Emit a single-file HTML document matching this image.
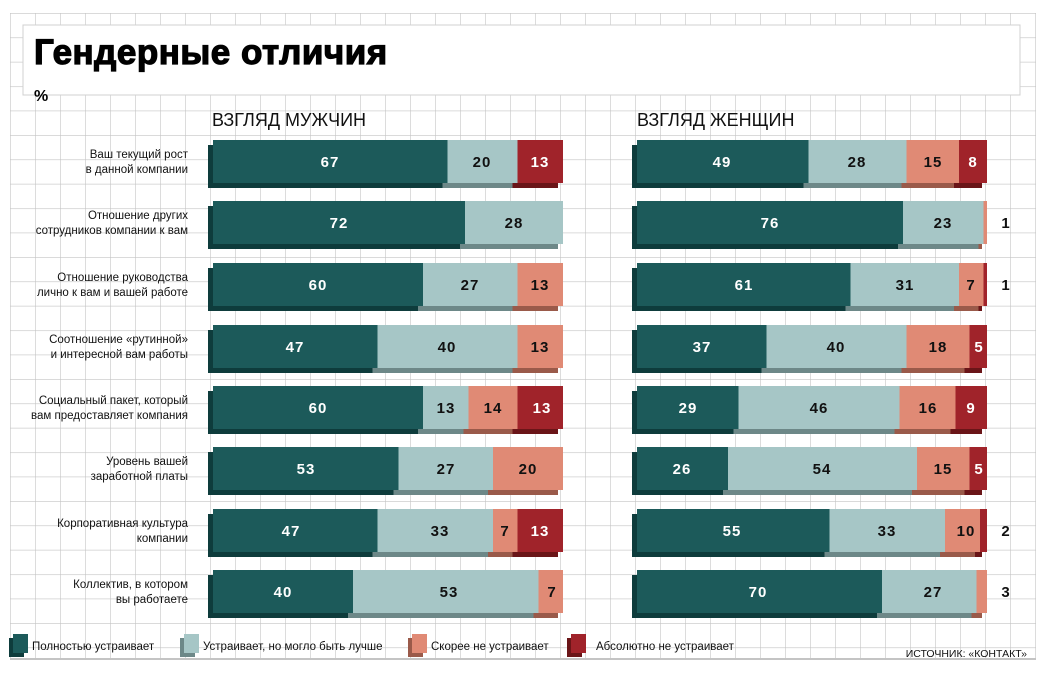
<!DOCTYPE html>
<html><head><meta charset="utf-8"><style>
html,body{margin:0;padding:0;background:#fff;}
svg{display:block;font-family:"Liberation Sans",sans-serif;}
.lab{font-size:11.5px;fill:#111;text-anchor:end;}
.v{font-size:15px;font-weight:bold;text-anchor:middle;letter-spacing:1px;}
.w{fill:#fff}.k{fill:#111}
.lg{font-size:11.5px;fill:#111;}
</style></head><body>
<svg width="1045" height="673" viewBox="0 0 1045 673" xmlns="http://www.w3.org/2000/svg">
<defs>
<pattern id="g" x="10" y="13" width="25" height="24.4" patternUnits="userSpaceOnUse">
<path d="M0 0H25M0 0V24.4" stroke="#c4c4c4" stroke-width="1.2" fill="none"/>
</pattern>
</defs>
<rect x="10" y="13" width="1026" height="645" fill="url(#g)"/>
<rect x="23" y="25" width="997" height="70" fill="#fff" stroke="#d0d0d0"/>
<text x="34" y="64" font-size="35" font-weight="bold" fill="#000" stroke="#000" stroke-width="1.2" style="letter-spacing:0.5px">Гендерные отличия</text>
<text x="34" y="101" font-size="16" font-weight="bold" fill="#000">%</text>
<text x="212" y="126" font-size="18" fill="#111">ВЗГЛЯД МУЖЧИН</text>
<text x="637" y="126" font-size="18" fill="#111">ВЗГЛЯД ЖЕНЩИН</text>

<!-- Row 1 -->
<g transform="translate(0,140)">
<text class="lab" x="188" y="18">Ваш текущий рост</text><text class="lab" x="188" y="33">в данной компании</text>
<rect x="208" y="5" width="234.5" height="43" fill="#0e3c3c"/><rect x="442.5" y="5" width="70" height="43" fill="#6d8888"/><rect x="512.5" y="5" width="45.5" height="43" fill="#6a1518"/>
<rect x="213" y="0" width="234.5" height="43" fill="#1c5a5a"/><rect x="447.5" y="0" width="70" height="43" fill="#a6c6c6"/><rect x="517.5" y="0" width="45.5" height="43" fill="#a0232a"/>
<text class="v w" x="330" y="27">67</text><text class="v k" x="482" y="27">20</text><text class="v w" x="540" y="27">13</text>
<rect x="632" y="5" width="171.5" height="43" fill="#0e3c3c"/><rect x="803.5" y="5" width="98" height="43" fill="#6d8888"/><rect x="901.5" y="5" width="52.5" height="43" fill="#9a5a4a"/><rect x="954" y="5" width="28" height="43" fill="#6a1518"/>
<rect x="637" y="0" width="171.5" height="43" fill="#1c5a5a"/><rect x="808.5" y="0" width="98" height="43" fill="#a6c6c6"/><rect x="906.5" y="0" width="52.5" height="43" fill="#e08a75"/><rect x="959" y="0" width="28" height="43" fill="#a0232a"/>
<text class="v w" x="722" y="27">49</text><text class="v k" x="857" y="27">28</text><text class="v k" x="933" y="27">15</text><text class="v w" x="973" y="27">8</text>
</g>

<!-- Row 2 -->
<g transform="translate(0,201)">
<text class="lab" x="188" y="18">Отношение других</text><text class="lab" x="188" y="33">сотрудников компании к вам</text>
<rect x="208" y="5" width="252" height="43" fill="#0e3c3c"/><rect x="460" y="5" width="98" height="43" fill="#6d8888"/>
<rect x="213" y="0" width="252" height="43" fill="#1c5a5a"/><rect x="465" y="0" width="98" height="43" fill="#a6c6c6"/>
<text class="v w" x="339" y="27">72</text><text class="v k" x="514" y="27">28</text>
<rect x="632" y="5" width="266" height="43" fill="#0e3c3c"/><rect x="898" y="5" width="80.5" height="43" fill="#6d8888"/><rect x="978.5" y="5" width="3.5" height="43" fill="#9a5a4a"/>
<rect x="637" y="0" width="266" height="43" fill="#1c5a5a"/><rect x="903" y="0" width="80.5" height="43" fill="#a6c6c6"/><rect x="983.5" y="0" width="3.5" height="43" fill="#e08a75"/>
<text class="v w" x="770" y="27">76</text><text class="v k" x="943" y="27">23</text><text class="v k" x="1006" y="27">1</text>
</g>

<!-- Row 3 -->
<g transform="translate(0,263)">
<text class="lab" x="188" y="18">Отношение руководства</text><text class="lab" x="188" y="33">лично к вам и вашей работе</text>
<rect x="208" y="5" width="210" height="43" fill="#0e3c3c"/><rect x="418" y="5" width="94.5" height="43" fill="#6d8888"/><rect x="512.5" y="5" width="45.5" height="43" fill="#9a5a4a"/>
<rect x="213" y="0" width="210" height="43" fill="#1c5a5a"/><rect x="423" y="0" width="94.5" height="43" fill="#a6c6c6"/><rect x="517.5" y="0" width="45.5" height="43" fill="#e08a75"/>
<text class="v w" x="318" y="27">60</text><text class="v k" x="470" y="27">27</text><text class="v k" x="540" y="27">13</text>
<rect x="632" y="5" width="213.5" height="43" fill="#0e3c3c"/><rect x="845.5" y="5" width="108.5" height="43" fill="#6d8888"/><rect x="954" y="5" width="24.5" height="43" fill="#9a5a4a"/><rect x="978.5" y="5" width="3.5" height="43" fill="#6a1518"/>
<rect x="637" y="0" width="213.5" height="43" fill="#1c5a5a"/><rect x="850.5" y="0" width="108.5" height="43" fill="#a6c6c6"/><rect x="959" y="0" width="24.5" height="43" fill="#e08a75"/><rect x="983.5" y="0" width="3.5" height="43" fill="#a0232a"/>
<text class="v w" x="744" y="27">61</text><text class="v k" x="905" y="27">31</text><text class="v k" x="971" y="27">7</text><text class="v k" x="1006" y="27">1</text>
</g>

<!-- Row 4 -->
<g transform="translate(0,325)">
<text class="lab" x="188" y="18">Соотношение «рутинной»</text><text class="lab" x="188" y="33">и интересной вам работы</text>
<rect x="208" y="5" width="164.5" height="43" fill="#0e3c3c"/><rect x="372.5" y="5" width="140" height="43" fill="#6d8888"/><rect x="512.5" y="5" width="45.5" height="43" fill="#9a5a4a"/>
<rect x="213" y="0" width="164.5" height="43" fill="#1c5a5a"/><rect x="377.5" y="0" width="140" height="43" fill="#a6c6c6"/><rect x="517.5" y="0" width="45.5" height="43" fill="#e08a75"/>
<text class="v w" x="295" y="27">47</text><text class="v k" x="447" y="27">40</text><text class="v k" x="540" y="27">13</text>
<rect x="632" y="5" width="129.5" height="43" fill="#0e3c3c"/><rect x="761.5" y="5" width="140" height="43" fill="#6d8888"/><rect x="901.5" y="5" width="63" height="43" fill="#9a5a4a"/><rect x="964.5" y="5" width="17.5" height="43" fill="#6a1518"/>
<rect x="637" y="0" width="129.5" height="43" fill="#1c5a5a"/><rect x="766.5" y="0" width="140" height="43" fill="#a6c6c6"/><rect x="906.5" y="0" width="63" height="43" fill="#e08a75"/><rect x="969.5" y="0" width="17.5" height="43" fill="#a0232a"/>
<text class="v w" x="702" y="27">37</text><text class="v k" x="836" y="27">40</text><text class="v k" x="938" y="27">18</text><text class="v w" x="979" y="27">5</text>
</g>

<!-- Row 5 -->
<g transform="translate(0,386)">
<text class="lab" x="188" y="18">Социальный пакет, который</text><text class="lab" x="188" y="33">вам предоставляет компания</text>
<rect x="208" y="5" width="210" height="43" fill="#0e3c3c"/><rect x="418" y="5" width="45.5" height="43" fill="#6d8888"/><rect x="463.5" y="5" width="49" height="43" fill="#9a5a4a"/><rect x="512.5" y="5" width="45.5" height="43" fill="#6a1518"/>
<rect x="213" y="0" width="210" height="43" fill="#1c5a5a"/><rect x="423" y="0" width="45.5" height="43" fill="#a6c6c6"/><rect x="468.5" y="0" width="49" height="43" fill="#e08a75"/><rect x="517.5" y="0" width="45.5" height="43" fill="#a0232a"/>
<text class="v w" x="318" y="27">60</text><text class="v k" x="446" y="27">13</text><text class="v k" x="493" y="27">14</text><text class="v w" x="542" y="27">13</text>
<rect x="632" y="5" width="101.5" height="43" fill="#0e3c3c"/><rect x="733.5" y="5" width="161" height="43" fill="#6d8888"/><rect x="894.5" y="5" width="56" height="43" fill="#9a5a4a"/><rect x="950.5" y="5" width="31.5" height="43" fill="#6a1518"/>
<rect x="637" y="0" width="101.5" height="43" fill="#1c5a5a"/><rect x="738.5" y="0" width="161" height="43" fill="#a6c6c6"/><rect x="899.5" y="0" width="56" height="43" fill="#e08a75"/><rect x="955.5" y="0" width="31.5" height="43" fill="#a0232a"/>
<text class="v w" x="688" y="27">29</text><text class="v k" x="819" y="27">46</text><text class="v k" x="928" y="27">16</text><text class="v w" x="971" y="27">9</text>
</g>

<!-- Row 6 -->
<g transform="translate(0,447)">
<text class="lab" x="188" y="18">Уровень вашей</text><text class="lab" x="188" y="33">заработной платы</text>
<rect x="208" y="5" width="185.5" height="43" fill="#0e3c3c"/><rect x="393.5" y="5" width="94.5" height="43" fill="#6d8888"/><rect x="488" y="5" width="70" height="43" fill="#9a5a4a"/>
<rect x="213" y="0" width="185.5" height="43" fill="#1c5a5a"/><rect x="398.5" y="0" width="94.5" height="43" fill="#a6c6c6"/><rect x="493" y="0" width="70" height="43" fill="#e08a75"/>
<text class="v w" x="306" y="27">53</text><text class="v k" x="446" y="27">27</text><text class="v k" x="528" y="27">20</text>
<rect x="632" y="5" width="91" height="43" fill="#0e3c3c"/><rect x="723" y="5" width="189" height="43" fill="#6d8888"/><rect x="912" y="5" width="52.5" height="43" fill="#9a5a4a"/><rect x="964.5" y="5" width="17.5" height="43" fill="#6a1518"/>
<rect x="637" y="0" width="91" height="43" fill="#1c5a5a"/><rect x="728" y="0" width="189" height="43" fill="#a6c6c6"/><rect x="917" y="0" width="52.5" height="43" fill="#e08a75"/><rect x="969.5" y="0" width="17.5" height="43" fill="#a0232a"/>
<text class="v w" x="682" y="27">26</text><text class="v k" x="822" y="27">54</text><text class="v k" x="943" y="27">15</text><text class="v w" x="979" y="27">5</text>
</g>

<!-- Row 7 -->
<g transform="translate(0,509)">
<text class="lab" x="188" y="18">Корпоративная культура</text><text class="lab" x="188" y="33">компании</text>
<rect x="208" y="5" width="164.5" height="43" fill="#0e3c3c"/><rect x="372.5" y="5" width="115.5" height="43" fill="#6d8888"/><rect x="488" y="5" width="24.5" height="43" fill="#9a5a4a"/><rect x="512.5" y="5" width="45.5" height="43" fill="#6a1518"/>
<rect x="213" y="0" width="164.5" height="43" fill="#1c5a5a"/><rect x="377.5" y="0" width="115.5" height="43" fill="#a6c6c6"/><rect x="493" y="0" width="24.5" height="43" fill="#e08a75"/><rect x="517.5" y="0" width="45.5" height="43" fill="#a0232a"/>
<text class="v w" x="291" y="27">47</text><text class="v k" x="440" y="27">33</text><text class="v k" x="505" y="27">7</text><text class="v w" x="540" y="27">13</text>
<rect x="632" y="5" width="192.5" height="43" fill="#0e3c3c"/><rect x="824.5" y="5" width="115.5" height="43" fill="#6d8888"/><rect x="940" y="5" width="35" height="43" fill="#9a5a4a"/><rect x="975" y="5" width="7" height="43" fill="#6a1518"/>
<rect x="637" y="0" width="192.5" height="43" fill="#1c5a5a"/><rect x="829.5" y="0" width="115.5" height="43" fill="#a6c6c6"/><rect x="945" y="0" width="35" height="43" fill="#e08a75"/><rect x="980" y="0" width="7" height="43" fill="#a0232a"/>
<text class="v w" x="732" y="27">55</text><text class="v k" x="887" y="27">33</text><text class="v k" x="966" y="27">10</text><text class="v k" x="1006" y="27">2</text>
</g>

<!-- Row 8 -->
<g transform="translate(0,570)">
<text class="lab" x="188" y="18">Коллектив, в котором</text><text class="lab" x="188" y="33">вы работаете</text>
<rect x="208" y="5" width="140" height="43" fill="#0e3c3c"/><rect x="348" y="5" width="185.5" height="43" fill="#6d8888"/><rect x="533.5" y="5" width="24.5" height="43" fill="#9a5a4a"/>
<rect x="213" y="0" width="140" height="43" fill="#1c5a5a"/><rect x="353" y="0" width="185.5" height="43" fill="#a6c6c6"/><rect x="538.5" y="0" width="24.5" height="43" fill="#e08a75"/>
<text class="v w" x="283" y="27">40</text><text class="v k" x="449" y="27">53</text><text class="v k" x="552" y="27">7</text>
<rect x="632" y="5" width="245" height="43" fill="#0e3c3c"/><rect x="877" y="5" width="94.5" height="43" fill="#6d8888"/><rect x="971.5" y="5" width="10.5" height="43" fill="#9a5a4a"/>
<rect x="637" y="0" width="245" height="43" fill="#1c5a5a"/><rect x="882" y="0" width="94.5" height="43" fill="#a6c6c6"/><rect x="976.5" y="0" width="10.5" height="43" fill="#e08a75"/>
<text class="v w" x="758" y="27">70</text><text class="v k" x="933" y="27">27</text><text class="v k" x="1006" y="27">3</text>
</g>

<!-- Legend -->
<rect x="10" y="658" width="1026" height="15" fill="#fff"/>
<line x1="10" y1="659" x2="1036" y2="659" stroke="#c4c4c4" stroke-width="2"/>
<rect x="9" y="638" width="15" height="19" fill="#0e3c3c"/><rect x="13" y="634" width="15" height="19" fill="#1c5a5a"/>
<text class="lg" x="32" y="650">Полностью устраивает</text>
<rect x="180" y="638" width="15" height="19" fill="#6d8888"/><rect x="184" y="634" width="15" height="19" fill="#a6c6c6"/>
<text class="lg" x="203" y="650">Устраивает, но могло быть лучше</text>
<rect x="408" y="638" width="15" height="19" fill="#9a5a4a"/><rect x="412" y="634" width="15" height="19" fill="#e08a75"/>
<text class="lg" x="431" y="650">Скорее не устраивает</text>
<rect x="567" y="638" width="15" height="19" fill="#6a1518"/><rect x="571" y="634" width="15" height="19" fill="#a0232a"/>
<text class="lg" x="596" y="650">Абсолютно не устраивает</text>
<text x="1027" y="657" font-size="10.5" fill="#111" text-anchor="end">ИСТОЧНИК: «КОНТАКТ»</text>
</svg>
</body></html>
